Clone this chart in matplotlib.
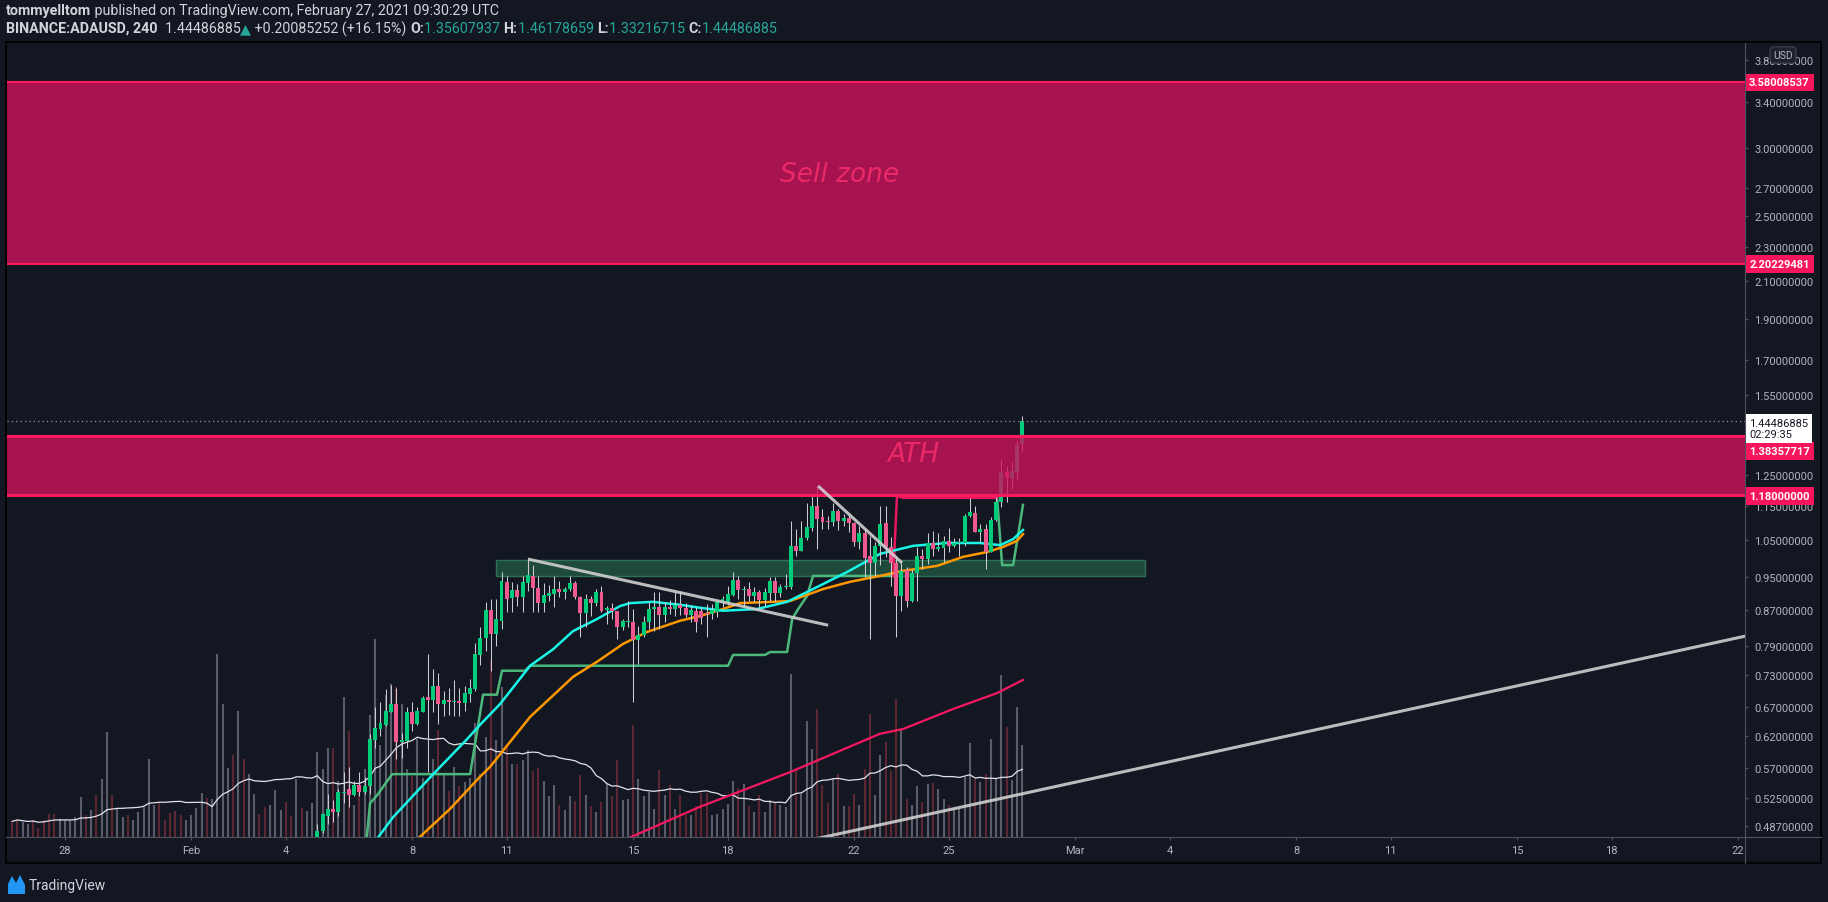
import matplotlib
matplotlib.use('Agg')
import matplotlib.pyplot as plt
import matplotlib.dates as mdates
import matplotlib.transforms as mtransforms
from matplotlib.patches import Rectangle, Polygon
from matplotlib.lines import Line2D
from matplotlib.ticker import FixedLocator, FuncFormatter
import numpy as np
import pandas as pd

plt.rcParams['font.family'] = ['Roboto', 'DejaVu Sans']

# ---------------- data ----------------
# 4h bars, first volume bar 2021-01-26 08:00, first visible candle 2021-02-05 00:00
pre_volume = [15.7, 18.3, 15, 13.3, 17.3, 9, 17.3, 23.3, 23.3, 18.3,
              16.7, 17.3, 20, 40, 21.7, 26.7, 41.7, 58.3, 105, 41.7,
              28.3, 20, 22.3, 17.3, 25, 30, 78.3, 32.3, 35, 16.7,
              24.3, 25.7, 22.3, 17.3, 22.3, 29, 44.3, 39, 38.3, 183,
              133, 69.3, 82.3, 126, 78.3, 63.3, 43.3, 23.3, 30, 32.3,
              46.7, 26.7, 35, 21, 58.3, 29, 25.7, 34.3]
pre_up = [0, 0, 1, 1, 0, 0, 0, 0, 0, 1,
          1, 1, 1, 1, 0, 1, 0, 1, 1, 0,
          1, 1, 0, 1, 1, 1, 1, 1, 0, 0,
          0, 0, 0, 1, 1, 1, 1, 0, 1, 1,
          1, 1, 0, 1, 0, 1, 1, 0, 0, 1,
          1, 1, 0, 0, 1, 0, 1, 1]

opens = [.473, .481, .501, .510, .506, .532, .538, .529, .544, .534,
         .542, .614, .632, .639, .662, .676, .610, .612, .662, .641,
         .662, .689, .683, .709, .676, .683, .680, .682, .678, .695,
         .704, .771, .807, .870, .816, .845, .938, .898, .918, .901,
         .935, .953, .923, .886, .903, .908, .920, .913, .920, .935,
         .901, .863, .896, .886, .913, .870, .875, .868, .831, .842,
         .842, .802, .813, .842, .872, .877, .858, .877, .872, .882,
         .875, .858, .868, .868, .862, .860, .865, .889, .889, .906,
         .943, .918, .920, .903, .913, .894, .910, .940, .910, .925,
         .925, 1.033, 1.019, 1.055, 1.084, 1.150, 1.116, 1.104, 1.101, 1.134,
         1.104, 1.113, 1.098, 1.044, 1.069, 1.005, .987, 1.033, 1.098, 1.030,
         .987, .903, .968, .891, .961, 1.005, .997, 1.041, 1.024, 1.027,
         1.047, 1.033, 1.041, 1.041, 1.119, 1.128, 1.072, 1.081, 1.016, 1.107,
         1.162, 1.259, 1.239, 1.259, 1.35607937]
closes = [.481, .503, .510, .506, .534, .534, .529, .544, .534, .542,
          .615, .634, .642, .663, .676, .610, .614, .662, .641, .663,
          .687, .683, .709, .676, .683, .680, .682, .678, .696, .706,
          .773, .807, .870, .816, .850, .940, .896, .918, .901, .938,
          .955, .923, .886, .906, .910, .920, .913, .920, .935, .901,
          .863, .896, .886, .913, .868, .875, .868, .831, .845, .843,
          .802, .813, .842, .872, .877, .858, .877, .872, .882, .875,
          .858, .870, .842, .851, .860, .870, .889, .896, .908, .943,
          .918, .920, .903, .913, .894, .913, .940, .910, .925, .926,
          1.033, 1.019, 1.055, 1.087, 1.150, 1.110, 1.101, 1.101, 1.134, 1.104,
          1.113, 1.098, 1.044, 1.069, 1.000, .987, 1.033, 1.095, 1.030, .987,
          .903, .966, .891, .961, 1.005, .997, 1.041, 1.024, 1.030, 1.047,
          1.033, 1.041, 1.042, 1.119, 1.131, 1.072, 1.081, 1.016, 1.107, 1.162,
          1.259, 1.239, 1.263, 1.354, 1.44486885]
highs = [.490, .505, .531, .523, .538, .563, .571, .550, .563, .556,
         .624, .670, .680, .704, .712, .706, .625, .670, .680, .670,
         .690, .773, .743, .735, .700, .706, .720, .706, .710, .722,
         .797, .831, .889, .896, .896, .963, .953, .938, .933, .953,
         .997, .980, .953, .935, .930, .953, .940, .925, .953, .940,
         .903, .908, .903, .920, .928, .880, .886, .860, .848, .891,
         .872, .833, .856, .889, .913, .913, .889, .894, .915, .915,
         .886, .882, .877, .877, .884, .884, .891, .903, .928, .963,
         .953, .928, .938, .925, .918, .923, .950, .950, .933, .958,
         1.104, 1.081, 1.104, 1.160, 1.184, 1.213, 1.140, 1.119, 1.160, 1.140,
         1.125, 1.125, 1.101, 1.090, 1.081, 1.060, 1.044, 1.150, 1.150, 1.058,
         1.005, .992, .976, .970, 1.030, 1.024, 1.069, 1.075, 1.069, 1.060,
         1.084, 1.055, 1.055, 1.125, 1.175, 1.150, 1.095, 1.095, 1.116, 1.178,
         1.304, 1.280, 1.295, 1.370, 1.46178659]
lows = [.470, .478, .490, .493, .500, .518, .513, .528, .528, .531,
        .531, .600, .620, .638, .662, .583, .585, .600, .628, .639,
        .662, .563, .662, .641, .655, .656, .655, .655, .663, .680,
        .700, .751, .780, .739, .790, .827, .865, .865, .880, .865,
        .915, .865, .865, .865, .890, .877, .900, .896, .915, .896,
        .809, .831, .855, .880, .865, .838, .850, .805, .825, .831,
        .680, .753, .809, .827, .823, .827, .842, .860, .856, .858,
        .853, .842, .820, .838, .810, .850, .853, .877, .882, .903,
        .896, .877, .891, .889, .877, .880, .891, .891, .901, .920,
        .920, 1.005, 1.019, 1.050, 1.075, 1.024, 1.081, 1.081, 1.090, 1.078,
        1.090, 1.072, 1.033, 1.024, .950, .805, .953, .980, 1.003, .928,
        .809, .868, .877, .889, .891, .971, .984, 1.005, 1.019, .990,
        1.016, 1.030, 1.005, 1.033, 1.116, 1.072, 1.044, .971, 1.016, 1.104,
        1.147, 1.162, 1.203, 1.236, 1.33216715]
volume = [85, 68, 89, 89, 56, 140, 106, 32, 45, 68,
          122, 198, 92, 142, 153, 150, 133, 68, 61, 98,
          59, 58, 78, 107, 63, 46, 70, 51, 55, 59,
          114, 63, 100, 177, 97, 150, 92, 73, 73, 77,
          87, 66, 69, 56, 41, 52, 32, 27, 41, 36,
          62, 42, 31, 25, 35, 53, 41, 77, 37, 38,
          112, 58, 41, 45, 28, 67, 42, 52, 28, 42,
          22, 22, 31, 44, 44, 22, 23, 28, 33, 56,
          49, 53, 31, 25, 42, 25, 37, 35, 32, 30,
          163, 68, 43, 116, 88, 128, 52, 34, 58, 63,
          31, 31, 43, 32, 68, 123, 42, 82, 95, 66,
          138, 108, 38, 32, 51, 35, 53, 54, 48, 38,
          32, 28, 28, 60, 94, 58, 55, 63, 98, 58,
          162, 110, 57, 130, 92]

# indicator lines: days after 2021-02-01 00:00, price
ema_fast_day = [5.80, 6.40, 7.67, 8.74, 9.15, 9.79, 10.74, 11.47, 12.10, 12.86, 13.59, 13.91, 14.63,
                15.49, 16.12, 16.85, 17.93, 18.88, 19.70, 20.78, 21.82, 22.87, 23.95, 24.99, 25.63,
                26.04, 26.35]
ema_fast = [.466, .499, .560, .615, .639, .676, .749, .783, .822, .849, .879, .886, .889,
            .882, .875, .868, .872, .889, .920, .963, 1.011, 1.033, 1.041, 1.041, 1.035,
            1.052, 1.078]
ema_slow_day = [7.05, 8.20, 9.15, 9.47, 10.74, 12.10, 12.86, 13.68, 14.44, 15.49, 16.12, 16.85,
                17.39, 18.44, 18.97, 20.02, 20.87, 21.82, 22.55, 23.63, 24.45, 25.21, 25.72,
                26.16, 26.35]
ema_slow = [.466, .510, .556, .571, .653, .727, .757, .794, .820, .845, .856, .872,
            .886, .889, .891, .920, .938, .953, .966, .979, 1.003, 1.016, 1.030,
            1.047, 1.066]
ema_long_day = [13.70, 16.12, 18.97, 21.82, 22.55, 24.14, 25.53, 26.35]
ema_long = [.469, .513, .563, .624, .632, .667, .696, .721]

stop_day = [5.55, 5.67, 5.89, 6.37, 8.84, 9.25, 9.69, 9.85, 10.58, 10.74, 17.01, 17.17,
            18.18, 18.34, 18.88, 19.04, 19.23, 19.51, 19.70, 22.24]
stop = [.466, .518, .529, .560, .560, .693, .693, .739, .739, .749, .749, .771,
        .771, .777, .777, .849, .872, .903, .953, .953]
stop_short_day = [22.24, 22.36, 22.55, 25.53]
stop_short = [.953, 1.181, 1.175, 1.175]
stop2_day = [25.53, 25.69, 26.04, 26.35]
stop2 = [1.175, .981, .981, 1.153]

trend_lines = [([10.67, 20.18], [.997, .835]),
               ([19.86, 22.52], [1.213, .987]),
               ([19.0, 50.0], [.464, .8225])]

sell_zone = (2.20229481, 3.58008537)
ath_zone = (1.186, 1.391)
ath_levels = [1.38357717, 1.18]
support_box = (9.66, 30.22, .953, .995)
last_price = 1.44486885

price_ticks = [3.8, 3.4, 3.0, 2.7, 2.5, 2.3, 2.1, 1.9, 1.7, 1.55, 1.25, 1.15, 1.05, .95,
               .87, .79, .73, .67, .62, .57, .525, .487]
date_ticks = ['2021-01-28', '2021-02-01', '2021-02-04', '2021-02-08', '2021-02-11', '2021-02-15',
              '2021-02-18', '2021-02-22', '2021-02-25', '2021-03-01', '2021-03-04', '2021-03-08',
              '2021-03-11', '2021-03-15', '2021-03-18', '2021-03-22']
date_labels = ['28', 'Feb', '4', '8', '11', '15', '18', '22', '25', 'Mar', '4', '8', '11', '15', '18', '22']

# ---------------- figure ----------------
W, H = 1828, 903
BG = '#131722'
TXT = '#b2b5be'
PINK = '#ff1a5e'
fig = plt.figure(figsize=(W / 100, H / 100), dpi=100, facecolor=BG)
ax = fig.add_axes([7 / W, (H - 838) / H, (1745 - 7) / W, (838 - 44) / H], facecolor=BG)

base = mdates.date2num(pd.Timestamp('2021-02-01'))
def dx(days):
    return base + np.asarray(days, dtype=float)

ax.set_yscale('log')
ax.set_xlim(dx(-5.83), dx(49.22))
ax.set_ylim(0.4731, 3.98)
ax.autoscale(False)

# volume (overlay in bottom of pane)
vol_times = pd.date_range('2021-01-26 08:00', periods=len(pre_volume) + len(volume), freq='4h')
vt = mdates.date2num(vol_times)
o = np.array(opens); c = np.array(closes)
up = c >= o
all_vol = np.array(pre_volume + volume, dtype=float)
all_up = np.concatenate([np.array(pre_up, bool), up])
VOL_SPAN = 794.0
trans = mtransforms.blended_transform_factory(ax.transData, ax.transAxes)
ax.vlines(vt, 0, all_vol / VOL_SPAN, transform=trans,
          colors=np.where(all_up, '#5a5d69', '#5b2832'), lw=1.5, zorder=1)
vol_ma = pd.Series(all_vol).rolling(20, min_periods=1).mean().values
ax.plot(vt, vol_ma / VOL_SPAN, transform=trans, color='#e0e3eb', lw=0.9, zorder=1.6)

# support box
sx0, sx1, sy0, sy1 = support_box
ax.add_patch(Rectangle((dx(sx0), sy0), sx1 - sx0, sy1 - sy0, facecolor='#1e4a3c',
                       edgecolor='#2e7055', lw=1.0, zorder=1.5))

# indicator lines
ax.plot(dx(ema_long_day), ema_long, color='#f7195f', lw=1.6, zorder=2)
ax.plot(dx(stop_day), stop, color='#4cb87c', lw=1.8, zorder=2)
ax.plot(dx(stop2_day), stop2, color='#4cb87c', lw=1.8, zorder=2)
ax.plot(dx(stop_short_day), stop_short, color='#e8175d', lw=1.8, zorder=2)
ax.plot(dx(ema_slow_day), ema_slow, color='#ff9800', lw=1.8, zorder=2.1)
ax.plot(dx(ema_fast_day), ema_fast, color='#19f5e6', lw=1.8, zorder=2.2)

# candles
ct = vt[len(pre_volume):]
lo_b = np.minimum(o, c)
hi_b = np.maximum(np.maximum(o, c), lo_b * 1.003)
ax.vlines(ct, lows, highs, color='#c9ccd4', lw=0.75, zorder=3)
ax.bar(ct, hi_b - lo_b, bottom=lo_b, width=0.125, color=np.where(up, '#00cc7a', '#ee5a8d'),
       linewidth=0, zorder=3.2)

# zones
ax.axhspan(*sell_zone, color='#cd125b', alpha=0.8, lw=0, zorder=3.8)
for v in sell_zone:
    ax.axhline(v, color=PINK, lw=1.5, zorder=3.9)
ax.axhspan(*ath_zone, color='#cd125b', alpha=0.8, lw=0, zorder=3.8)
for v in ath_zone:
    ax.axhline(v, color=PINK, lw=0.8, zorder=3.9)
for v in ath_levels:
    ax.axhline(v, color=PINK, lw=1.5, zorder=3.9)
ax.text(dx(20.53), 2.80, 'Sell zone', fontsize=19, style='italic', color='#ea2a68',
        ha='center', va='center', family='DejaVu Sans', zorder=4.5)
ax.text(dx(22.87), 1.322, 'ATH', fontsize=19, style='italic', color='#ea2a68',
        ha='center', va='center', family='DejaVu Sans', zorder=4.5)

# trend lines
for days, prices in trend_lines:
    ax.plot(dx(days), prices, color='#cfcfcf', lw=2.2, alpha=0.9, zorder=4,
            solid_capstyle='butt')

# last price
ax.axhline(last_price, color='#9598a1', lw=0.9, ls=(0, (1, 2.5)), zorder=5)

# axes styling
for s in ax.spines.values():
    s.set_visible(False)
ax.yaxis.tick_right()
ax.yaxis.set_major_locator(FixedLocator(price_ticks))
ax.yaxis.set_minor_locator(FixedLocator([]))
ax.yaxis.set_major_formatter(FuncFormatter(lambda v, p: '%.8f' % v))
ax.tick_params(axis='y', which='both', length=2.5, width=0.8, color='#50535e', labelcolor=TXT,
               labelsize=8, pad=4)
ax.set_xticks(mdates.date2num(pd.to_datetime(date_ticks)))
ax.set_xticklabels(date_labels)
ax.tick_params(axis='x', length=2.5, width=0.8, color='#50535e', labelcolor=TXT, labelsize=8, pad=3)

# price labels on the scale
def price_label(v, txt, fc, tc, dy=0, weight='bold'):
    ax.annotate(txt, xy=(1, v), xycoords=('axes fraction', 'data'), xytext=(3.0, dy),
                textcoords='offset points', ha='left', va='center', fontsize=8,
                color=tc, fontweight=weight, annotation_clip=False, zorder=10,
                bbox=dict(boxstyle='square,pad=0.35', fc=fc, ec='none'))

price_label(sell_zone[1], '%.8f' % sell_zone[1], '#f7165c', 'white')
price_label(sell_zone[0], '%.8f' % sell_zone[0], '#f7165c', 'white')
price_label(ath_levels[0], '%.8f' % ath_levels[0], '#f7165c', 'white', dy=-10)
price_label(ath_levels[1], '%.8f' % ath_levels[1], '#f7165c', 'white')
price_label(last_price, '%.8f\n02:29:35' % last_price, 'white', '#131722', dy=-5.5, weight='normal')

fig.text(1783 / W, 1 - 56 / H, 'USD', fontsize=7.5, color=TXT, ha='center', va='center',
         bbox=dict(boxstyle='round,pad=0.3', fc='#1e222d', ec='#434651', lw=0.8))

# frame and separators
fig.add_artist(Line2D([6 / W, 1821 / W], [1 - 838 / H, 1 - 838 / H], color='#50535e', lw=0.8))
fig.add_artist(Line2D([1745 / W, 1745 / W], [1 - 44 / H, 1 - 864 / H], color='#50535e', lw=0.8))
fig.add_artist(Rectangle((6 / W, 1 - 864 / H), 1815 / W, 821 / H, fill=False, ec='black',
                         lw=1.2, transform=fig.transFigure))

# header
renderer = fig.canvas.get_renderer()
def header(parts, y):
    x = 6 / W
    for s, col, wt in parts:
        t = fig.text(x, 1 - y / H, s, color=col, fontweight=wt, fontsize=10.3, ha='left', va='center')
        x = t.get_window_extent(renderer).x1 / W

WHITE = '#d1d4dc'
TEAL = '#26a69a'
header([('tommyelltom', WHITE, 'bold'),
        (' published on TradingView.com, February 27, 2021 09:30:29 UTC', WHITE, 'normal')], 10.5)
header([('BINANCE:ADAUSD, 240', WHITE, 'bold'), ('  1.44486885', WHITE, 'normal'),
        ('\u25b2', TEAL, 'normal'), (' +0.20085252 (+16.15%) ', WHITE, 'normal'),
        ('O:', WHITE, 'bold'), ('1.35607937 ', TEAL, 'normal'),
        ('H:', WHITE, 'bold'), ('1.46178659 ', TEAL, 'normal'),
        ('L:', WHITE, 'bold'), ('1.33216715 ', TEAL, 'normal'),
        ('C:', WHITE, 'bold'), ('1.44486885', TEAL, 'normal')], 29)

# footer logo
logo = [(8, 895), (8, 885), (12, 877), (16, 884), (20, 876), (25, 886), (25, 895)]
fig.add_artist(Polygon([(x / W, 1 - y / H) for x, y in logo], closed=True, fc='#2196f3', ec='none',
                       transform=fig.transFigure))
fig.text(29 / W, 1 - 886 / H, 'TradingView', fontsize=10, color=WHITE, ha='left', va='center')

fig.savefig('out.png', dpi=100, facecolor=BG)
